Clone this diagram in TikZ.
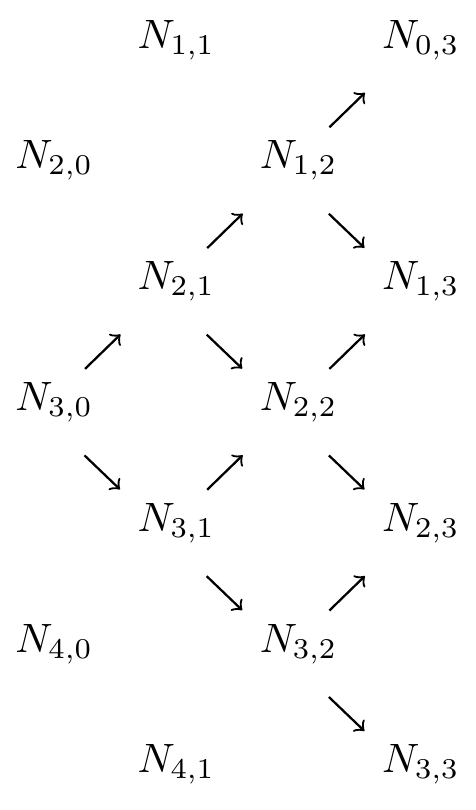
\documentclass[tikz,border=0pt]{standalone}
\begin{document}
\begin{tikzpicture}[x=0.2439pt,y=-0.2439pt,
  lbl/.style={anchor=base west,inner sep=0pt,outer sep=0pt,font=\normalsize},
  arr/.style={->,line width=0.55pt}]
\useasboundingbox (0,0) rectangle (476,810);
% columns: 15.5, 137.7, 259.9, 382.1 ; baselines: 48, 168.8, 289.6, 410.4, 531.2, 652, 772.8
\node[lbl] (n11) at (137.7,48)    {$N_{1,1}$};
\node[lbl] (n03) at (382.1,48)    {$N_{0,3}$};
\node[lbl] (n20) at (15.5,168.8)  {$N_{2,0}$};
\node[lbl] (n12) at (259.9,168.8) {$N_{1,2}$};
\node[lbl] (n21) at (137.7,289.6) {$N_{2,1}$};
\node[lbl] (n13) at (382.1,289.6) {$N_{1,3}$};
\node[lbl] (n30) at (15.5,410.4)  {$N_{3,0}$};
\node[lbl] (n22) at (259.9,410.4) {$N_{2,2}$};
\node[lbl] (n31) at (137.7,531.2) {$N_{3,1}$};
\node[lbl] (n23) at (382.1,531.2) {$N_{2,3}$};
\node[lbl] (n40) at (15.5,652)    {$N_{4,0}$};
\node[lbl] (n32) at (259.9,652)   {$N_{3,2}$};
\node[lbl] (n41) at (137.7,772.8) {$N_{4,1}$};
\node[lbl] (n33) at (382.1,772.8) {$N_{3,3}$};
% up arrows
\foreach \s/\t in {n30/n21, n21/n12, n31/n22, n12/n03, n22/n13, n32/n23}
  \draw[arr] ([shift={(69.5,-41.5)}]\s.base west) -- ([shift={(-17.2,44.8)}]\t.base west);
% down arrows
\foreach \s/\t in {n30/n31, n21/n22, n31/n32, n12/n13, n22/n23, n32/n33}
  \draw[arr] ([shift={(69,45)}]\s.base west) -- ([shift={(-17.7,-41.8)}]\t.base west);
\end{tikzpicture}
\end{document}
